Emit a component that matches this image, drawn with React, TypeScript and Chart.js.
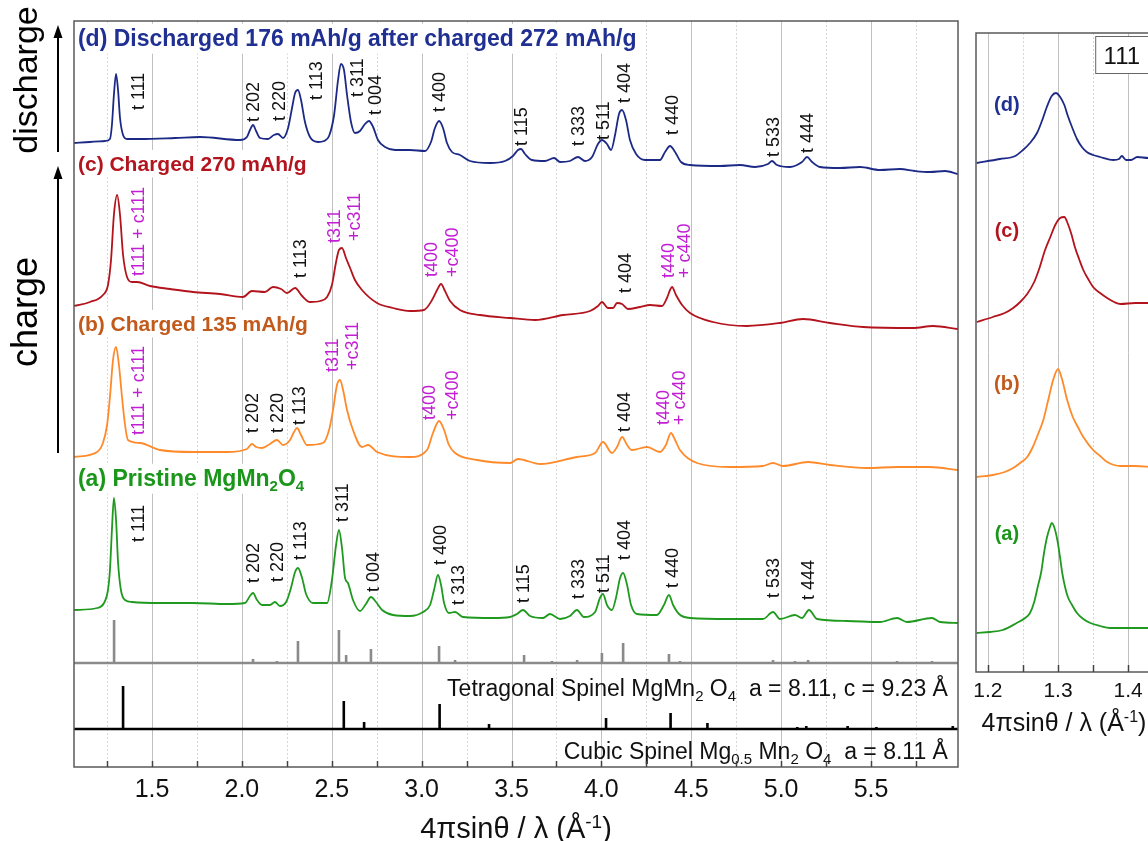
import React, { useEffect, useRef } from "react";
import { Chart, registerables } from "chart.js";
Chart.register(...registerables);

const FONT = "'Liberation Sans', Arial, Helvetica, sans-serif";

// ---------- main panel data (x in 4πsinθ/λ, y in arbitrary stacked intensity) ----------
const X_MIN = 1.066;
const X_MAX = 5.984;
const Y_MAX = 746;

const traceD: [number, number][] = [
  [1.066, 624], [1.155, 625], [1.239, 626], [1.266, 628], [1.277, 642], [1.288, 672], [1.3, 693], [1.311, 677],
  [1.322, 649], [1.339, 632], [1.361, 628], [1.433, 628], [1.628, 629], [1.767, 630], [1.99, 627], [2.028, 630],
  [2.045, 637], [2.062, 642], [2.079, 636], [2.101, 629], [2.145, 628], [2.178, 632], [2.201, 633], [2.229, 629],
  [2.257, 639], [2.279, 659], [2.296, 674], [2.312, 677], [2.329, 667], [2.351, 645], [2.379, 630], [2.424, 625],
  [2.457, 626], [2.485, 631], [2.513, 652], [2.535, 687], [2.551, 703], [2.568, 697], [2.585, 672], [2.607, 645],
  [2.629, 634], [2.657, 636], [2.685, 643], [2.707, 646], [2.73, 640], [2.757, 627], [2.796, 620], [2.852, 617],
  [2.935, 617], [3.019, 616], [3.052, 625], [3.074, 639], [3.097, 646], [3.119, 639], [3.141, 624], [3.169, 615],
  [3.213, 612], [3.269, 606], [3.38, 604], [3.464, 606], [3.508, 611], [3.536, 617], [3.553, 618], [3.575, 613],
  [3.614, 607], [3.686, 606], [3.737, 609], [3.77, 605], [3.825, 606], [3.87, 610], [3.909, 606], [3.948, 610],
  [3.981, 623], [4.003, 627], [4.031, 623], [4.054, 617], [4.076, 632], [4.098, 653], [4.115, 657], [4.137, 647],
  [4.159, 627], [4.193, 613], [4.243, 607], [4.326, 607], [4.354, 615], [4.382, 621], [4.41, 615], [4.443, 605],
  [4.493, 602], [4.66, 601], [4.771, 602], [4.855, 600], [4.927, 603], [4.949, 606], [4.977, 602], [5.049, 600],
  [5.116, 605], [5.144, 610], [5.172, 605], [5.216, 600], [5.327, 599], [5.439, 600], [5.55, 597], [5.661, 598],
  [5.745, 596], [5.828, 595], [5.912, 596], [5.984, 593],
];

const traceC: [number, number][] = [
  [1.066, 461], [1.155, 465], [1.227, 472], [1.255, 482], [1.272, 507], [1.288, 552], [1.306, 572], [1.322, 552],
  [1.339, 512], [1.361, 490], [1.389, 485], [1.417, 485], [1.489, 481], [1.6, 478], [1.728, 475], [1.878, 473],
  [2.006, 470], [2.056, 476], [2.128, 475], [2.173, 480], [2.218, 478], [2.251, 474], [2.296, 479], [2.335, 471],
  [2.379, 465], [2.435, 466], [2.474, 470], [2.501, 482], [2.524, 505], [2.54, 517], [2.557, 519], [2.579, 509],
  [2.602, 499], [2.629, 487], [2.668, 477], [2.752, 464], [2.841, 459], [2.935, 456], [3.013, 457], [3.058, 467],
  [3.086, 477], [3.108, 483], [3.13, 476], [3.158, 466], [3.213, 457], [3.325, 452], [3.492, 449], [3.631, 447],
  [3.787, 452], [3.937, 456], [3.981, 461], [4.003, 465], [4.037, 459], [4.065, 459], [4.087, 464], [4.115, 463],
  [4.148, 458], [4.215, 460], [4.271, 462], [4.337, 461], [4.365, 469], [4.382, 477], [4.393, 480], [4.415, 472],
  [4.449, 462], [4.493, 454], [4.621, 445], [4.81, 441], [4.994, 444], [5.122, 448], [5.272, 444], [5.456, 440],
  [5.734, 439], [5.845, 441], [5.984, 438],
];

const traceB: [number, number][] = [
  [1.066, 310], [1.194, 315], [1.227, 324], [1.25, 342], [1.266, 370], [1.283, 407], [1.3, 420], [1.316, 402],
  [1.333, 370], [1.35, 342], [1.366, 327], [1.433, 324], [1.545, 317], [1.728, 315], [1.917, 315], [2.028, 318],
  [2.056, 323], [2.079, 320], [2.112, 319], [2.156, 323], [2.195, 327], [2.229, 322], [2.268, 327], [2.29, 335],
  [2.307, 339], [2.329, 332], [2.362, 322], [2.451, 324], [2.485, 337], [2.507, 357], [2.529, 382], [2.546, 387],
  [2.563, 377], [2.585, 357], [2.618, 337], [2.668, 320], [2.702, 322], [2.752, 315], [2.935, 310], [3.03, 317],
  [3.063, 334], [3.097, 346], [3.125, 337], [3.152, 322], [3.186, 314], [3.308, 307], [3.492, 304], [3.536, 308],
  [3.659, 303], [3.864, 310], [3.965, 314], [4.009, 325], [4.059, 314], [4.087, 320], [4.115, 330], [4.143, 322],
  [4.17, 317], [4.254, 320], [4.326, 315], [4.359, 322], [4.387, 334], [4.41, 327], [4.437, 317], [4.532, 304],
  [4.716, 300], [4.899, 301], [4.955, 304], [5.01, 301], [5.15, 305], [5.272, 302], [5.478, 299], [5.645, 300],
  [5.828, 300], [5.984, 297],
];

const traceA: [number, number][] = [
  [1.066, 157], [1.194, 159], [1.233, 164], [1.255, 177], [1.266, 197], [1.277, 237], [1.288, 269], [1.3, 247],
  [1.311, 205], [1.327, 177], [1.35, 167], [1.389, 165], [1.545, 164], [1.728, 164], [1.917, 163], [2.017, 164],
  [2.045, 171], [2.062, 174], [2.084, 167], [2.112, 162], [2.156, 162], [2.184, 165], [2.212, 161], [2.246, 165],
  [2.273, 179], [2.296, 195], [2.312, 199], [2.335, 189], [2.357, 173], [2.396, 164], [2.474, 164], [2.501, 187],
  [2.524, 222], [2.54, 237], [2.557, 219], [2.574, 189], [2.59, 184], [2.618, 167], [2.657, 156], [2.69, 163],
  [2.718, 170], [2.746, 165], [2.78, 157], [2.841, 152], [2.935, 151], [3.008, 155], [3.047, 162], [3.069, 177],
  [3.091, 192], [3.108, 182], [3.125, 164], [3.152, 154], [3.186, 155], [3.23, 150], [3.397, 149], [3.492, 150],
  [3.53, 153], [3.564, 157], [3.603, 151], [3.675, 149], [3.714, 153], [3.77, 148], [3.825, 151], [3.864, 157],
  [3.903, 150], [3.965, 155], [3.992, 169], [4.009, 173], [4.031, 162], [4.059, 157], [4.081, 169], [4.104, 189],
  [4.121, 194], [4.143, 182], [4.165, 162], [4.198, 153], [4.309, 152], [4.348, 162], [4.376, 172], [4.399, 162],
  [4.432, 153], [4.493, 149], [4.716, 148], [4.899, 148], [4.955, 155], [4.994, 148], [5.077, 152], [5.116, 149],
  [5.155, 157], [5.2, 148], [5.367, 146], [5.55, 145], [5.645, 149], [5.7, 145], [5.839, 149], [5.884, 145],
  [5.984, 144],
];

// reference stick patterns
const TETRA_BASE = 104;
const tetraPos = [1.289, 2.062, 2.195, 2.312, 2.54, 2.58, 2.718, 3.097, 3.186, 3.35, 3.57, 3.725, 3.865, 4.003, 4.121,
  4.376, 4.437, 4.532, 4.621, 4.81, 4.955, 5.077, 5.15, 5.272, 5.34, 5.48, 5.645, 5.839];
const tetraInt = [43, 4, 2, 22, 33, 8, 14, 17, 3, 1, 8, 2, 3, 10, 20, 9, 2, 1, 1, 1, 3, 2, 3, 1, 1, 1, 2, 2];

const CUBIC_BASE = 38;
const cubicPos = [1.339, 2.19, 2.567, 2.68, 3.1, 3.375, 4.026, 4.385, 4.59, 5.09, 5.14, 5.37, 5.53, 5.955];
const cubicInt = [43, 1, 28, 7, 25, 5, 11, 16, 6, 2, 3, 3, 2, 3];

const majorTicks = [1.5, 2.0, 2.5, 3.0, 3.5, 4.0, 4.5, 5.0, 5.5];
const minorTicks = [1.25, 1.75, 2.25, 2.75, 3.25, 3.75, 4.25, 4.75, 5.25, 5.75];

// peak labels: text, x, y (start of rotated text), colour key (k = black, m = magenta)
type PeakLabel = [string, number, number, string];
const labelsD: PeakLabel[] = [
  ["t 111", 1.422, 657, "k"], ["t 202", 2.062, 645, "k"], ["t 220", 2.207, 646, "k"], ["t 113", 2.412, 667, "k"],
  ["t 311", 2.64, 670, "k"], ["t 004", 2.741, 652, "k"], ["t 400", 3.097, 655, "k"], ["t 115", 3.553, 621, "k"],
  ["t 333", 3.87, 621, "k"], ["t 511", 4.009, 627, "k"], ["t 404", 4.126, 664, "k"], ["t 440", 4.393, 632, "k"],
  ["t 533", 4.955, 610, "k"], ["t 444", 5.144, 614, "k"],
];
const labelsC: PeakLabel[] = [
  ["t111 + c111", 1.422, 491, "m"], ["t 113", 2.323, 489, "k"], ["t311", 2.513, 524, "m"], ["+c311", 2.624, 526, "m"],
  ["t400", 3.052, 490, "m"], ["+c400", 3.169, 490, "m"], ["t 404", 4.131, 474, "k"], ["t440", 4.371, 489, "m"],
  ["+ c440", 4.46, 489, "m"],
];
const labelsB: PeakLabel[] = [
  ["t111 + c111", 1.422, 332, "m"], ["t 202", 2.056, 334, "k"], ["t 220", 2.195, 334, "k"], ["t 113", 2.318, 342, "k"],
  ["t311", 2.501, 395, "m"], ["+c311", 2.613, 397, "m"], ["t400", 3.041, 347, "m"], ["+c400", 3.169, 347, "m"],
  ["t 404", 4.126, 335, "k"], ["t440", 4.343, 342, "m"], ["+ c440", 4.432, 342, "m"],
];
const labelsA: PeakLabel[] = [
  ["t 111", 1.422, 225, "k"], ["t 202", 2.062, 184, "k"], ["t 220", 2.195, 185, "k"], ["t 113", 2.323, 207, "k"],
  ["t 311", 2.557, 245, "k"], ["t 004", 2.729, 175, "k"], ["t 400", 3.102, 202, "k"], ["t 313", 3.202, 162, "k"],
  ["t 115", 3.564, 164, "k"], ["t 333", 3.87, 168, "k"], ["t 511", 4.009, 174, "k"], ["t 404", 4.126, 207, "k"],
  ["t 440", 4.393, 179, "k"], ["t 533", 4.955, 169, "k"], ["t 444", 5.15, 167, "k"],
];

type Seg = { t: string; s?: "sub" | "sup" };
const TITLE_X = 1.088;
const titleD: Seg[] = [{ t: "(d) Discharged 176 mAh/g after charged 272 mAh/g" }];
const titleC: Seg[] = [{ t: "(c) Charged 270 mAh/g" }];
const titleB: Seg[] = [{ t: "(b) Charged 135 mAh/g" }];
const titleA: Seg[] = [{ t: "(a) Pristine MgMn" }, { t: "2", s: "sub" }, { t: "O" }, { t: "4", s: "sub" }];
const titleY = [729, 604, 444, 289];

const tetraText: Seg[] = [
  { t: "Tetragonal Spinel MgMn" }, { t: "2", s: "sub" }, { t: " O" }, { t: "4", s: "sub" }, { t: "  a = 8.11, c = 9.23 Å" },
];
const cubicText: Seg[] = [
  { t: "Cubic Spinel Mg" }, { t: "0.5", s: "sub" }, { t: " Mn" }, { t: "2", s: "sub" }, { t: " O" }, { t: "4", s: "sub" },
  { t: "  a = 8.11 Å" },
];
const refTextX = 5.928;
const refTextY = [79, 16];

const axisTitle: Seg[] = [{ t: "4πsinθ / λ (Å" }, { t: "-1", s: "sup" }, { t: ")" }];

// ---------- side panel (111 reflection) ----------
const RX_MIN = 1.183;
const RX_MAX = 1.434;
const RY_MAX = 639;

const zoomD: [number, number][] = [
  [1.184, 509], [1.217, 513], [1.239, 516], [1.25, 522], [1.26, 529], [1.27, 539], [1.277, 551], [1.284, 565],
  [1.291, 576], [1.297, 579], [1.303, 575], [1.309, 567], [1.314, 556], [1.321, 543], [1.327, 533], [1.334, 525],
  [1.341, 520], [1.35, 517], [1.36, 515], [1.379, 512], [1.387, 513], [1.391, 516], [1.397, 512], [1.404, 512],
  [1.413, 515], [1.429, 514], [1.434, 514],
];
const zoomC: [number, number][] = [
  [1.184, 350], [1.207, 355], [1.224, 359], [1.236, 364], [1.246, 370], [1.256, 378], [1.266, 390], [1.274, 405],
  [1.281, 421], [1.289, 435], [1.296, 447], [1.303, 454], [1.309, 455], [1.313, 450], [1.319, 438], [1.324, 425],
  [1.33, 413], [1.336, 402], [1.343, 393], [1.35, 385], [1.36, 379], [1.37, 374], [1.38, 370], [1.389, 368],
  [1.41, 369], [1.434, 369],
];
const zoomB: [number, number][] = [
  [1.184, 195], [1.207, 197], [1.224, 200], [1.236, 204], [1.246, 209], [1.256, 215], [1.264, 225], [1.271, 237],
  [1.279, 252], [1.286, 272], [1.293, 292], [1.3, 303], [1.306, 292], [1.313, 272], [1.321, 255], [1.329, 244],
  [1.336, 235], [1.35, 222], [1.36, 216], [1.37, 210], [1.389, 206], [1.41, 206], [1.434, 205],
];
const zoomA: [number, number][] = [
  [1.184, 39], [1.203, 40], [1.221, 42], [1.241, 49], [1.253, 54], [1.26, 59], [1.266, 70], [1.271, 85], [1.276, 100],
  [1.28, 119], [1.284, 134], [1.289, 146], [1.291, 149], [1.294, 146], [1.299, 132], [1.303, 114], [1.306, 99],
  [1.31, 85], [1.314, 75], [1.32, 67], [1.327, 59], [1.336, 53], [1.346, 49], [1.36, 46], [1.374, 44], [1.403, 44],
  [1.434, 44],
];
const sideMajor = [1.2, 1.3, 1.4];
const sideMinor = [1.25, 1.35];
const sideTicks = [1.2, 1.25, 1.3, 1.35, 1.4];
const sideLabels = ["(d)", "(c)", "(b)", "(a)"];
const sideLabelX = 1.227;
const sideLabelY = [568, 442, 289, 139];
const boxText = "111";

// ---------- colours ----------
const COL_D = "#1c2a86";
const COL_C = "#b3131c";
const COL_B = "#ff8a2a";
const COL_A = "#1f9a1f";
const TXT_D = "#1f2f92";
const TXT_C = "#b3151e";
const TXT_B = "#c25a1c";
const TXT_A = "#1a961a";
const MAGENTA = "#c21fd4";

const toXY = (arr: [number, number][]) => arr.map(([x, y]) => ({ x, y }));
function sticks(pos: number[], ints: number[], base: number, lo: number, hi: number) {
  const pts: { x: number; y: number }[] = [{ x: lo, y: base }];
  pos.forEach((p, i) => {
    pts.push({ x: p, y: base }, { x: p, y: base + ints[i] }, { x: p, y: base });
  });
  pts.push({ x: hi, y: base });
  return pts;
}

function drawRich(
  ctx: CanvasRenderingContext2D, segs: Seg[], x: number, y: number, size: number, weight: string,
  color: string, align: "left" | "right" | "center", bg?: string
) {
  const fontFor = (s?: string) => `${weight} ${s ? Math.round(size * 0.64) : size}px ${FONT}`;
  const widths = segs.map((sg) => {
    ctx.font = fontFor(sg.s);
    return ctx.measureText(sg.t).width;
  });
  const W = widths.reduce((a, b) => a + b, 0);
  const x0 = align === "left" ? x : align === "right" ? x - W : x - W / 2;
  if (bg) {
    ctx.fillStyle = bg;
    ctx.fillRect(x0 - 3, y - size * 0.62, W + 6, size * 1.3);
  }
  ctx.fillStyle = color;
  ctx.textAlign = "left";
  ctx.textBaseline = "alphabetic";
  let cx = x0;
  segs.forEach((sg, i) => {
    ctx.font = fontFor(sg.s);
    const dy = sg.s === "sub" ? size * 0.2 : sg.s === "sup" ? -size * 0.36 : 0;
    ctx.fillText(sg.t, cx, y + size * 0.36 + dy);
    cx += widths[i];
  });
}

function arrowUp(ctx: CanvasRenderingContext2D, x: number, yTail: number, yTip: number) {
  ctx.strokeStyle = "#000";
  ctx.fillStyle = "#000";
  ctx.lineWidth = 2;
  ctx.beginPath();
  ctx.moveTo(x, yTail);
  ctx.lineTo(x, yTip + 8);
  ctx.stroke();
  ctx.beginPath();
  ctx.moveTo(x, yTip);
  ctx.lineTo(x - 4.5, yTip + 13);
  ctx.lineTo(x + 4.5, yTip + 13);
  ctx.closePath();
  ctx.fill();
}

const mainPlugin = {
  id: "mainDeco",
  beforeDatasetsDraw(chart: any) {
    const { ctx, chartArea: a, scales } = chart;
    const xs = scales.x;
    const ys = scales.y;
    ctx.save();
    ctx.lineWidth = 1;
    ctx.strokeStyle = "#d6d6d6";
    ctx.setLineDash([2, 2]);
    minorTicks.forEach((v) => {
      const px = Math.round(xs.getPixelForValue(v)) + 0.5;
      ctx.beginPath();
      ctx.moveTo(px, a.top);
      ctx.lineTo(px, a.bottom);
      ctx.stroke();
    });
    ctx.setLineDash([]);
    ctx.strokeStyle = "#c0c0c0";
    majorTicks.forEach((v) => {
      const px = Math.round(xs.getPixelForValue(v)) + 0.5;
      ctx.beginPath();
      ctx.moveTo(px, a.top);
      ctx.lineTo(px, a.bottom);
      ctx.stroke();
    });
    const tx = xs.getPixelForValue(TITLE_X);
    const titles = [titleD, titleC, titleB, titleA];
    const cols = [TXT_D, TXT_C, TXT_B, TXT_A];
    const sizes = [23, 21, 21, 23];
    titles.forEach((t, i) => drawRich(ctx, t, tx, ys.getPixelForValue(titleY[i]), sizes[i], "bold", cols[i], "left", "#fff"));
    ctx.restore();
  },
  afterDatasetsDraw(chart: any) {
    const { ctx, chartArea: a, scales } = chart;
    const xs = scales.x;
    const ys = scales.y;
    ctx.save();
    // peak labels (rotated)
    [labelsD, labelsC, labelsB, labelsA].forEach((list) => {
      list.forEach(([text, xv, yv, c]) => {
        ctx.save();
        ctx.translate(xs.getPixelForValue(xv), ys.getPixelForValue(yv));
        ctx.rotate(-Math.PI / 2);
        ctx.font = `18px ${FONT}`;
        ctx.fillStyle = c === "m" ? MAGENTA : "#111";
        ctx.textAlign = "left";
        ctx.textBaseline = "middle";
        ctx.fillText(text, 0, 1);
        ctx.restore();
      });
    });
    // reference texts
    const rx = xs.getPixelForValue(refTextX);
    drawRich(ctx, tetraText, rx, ys.getPixelForValue(refTextY[0]), 23, "normal", "#111", "right");
    drawRich(ctx, cubicText, rx, ys.getPixelForValue(refTextY[1]), 23, "normal", "#111", "right");
    // frame
    ctx.strokeStyle = "#5a5a5a";
    ctx.lineWidth = 1.5;
    ctx.strokeRect(a.left, a.top, a.right - a.left, a.bottom - a.top);
    // inward ticks
    ctx.strokeStyle = "#444";
    ctx.lineWidth = 1.5;
    [...majorTicks, ...minorTicks].forEach((v) => {
      const px = Math.round(xs.getPixelForValue(v)) + 0.5;
      ctx.beginPath();
      ctx.moveTo(px, a.bottom);
      ctx.lineTo(px, a.bottom - 6);
      ctx.stroke();
    });
    // axis title
    drawRich(ctx, axisTitle, (a.left + a.right) / 2, 828, 29, "normal", "#111", "center");
    // side annotations
    ctx.fillStyle = "#000";
    ctx.textAlign = "center";
    ctx.textBaseline = "alphabetic";
    ctx.save();
    ctx.translate(37, 80);
    ctx.rotate(-Math.PI / 2);
    ctx.font = `34px ${FONT}`;
    ctx.fillText("discharge", 0, 0);
    ctx.restore();
    ctx.save();
    ctx.translate(37, 312);
    ctx.rotate(-Math.PI / 2);
    ctx.font = `36px ${FONT}`;
    ctx.fillText("charge", 0, 0);
    ctx.restore();
    arrowUp(ctx, 58, 152, 25);
    arrowUp(ctx, 58, 453, 166);
    ctx.restore();
  },
};

const sidePlugin = {
  id: "sideDeco",
  beforeDatasetsDraw(chart: any) {
    const { ctx, chartArea: a, scales } = chart;
    const xs = scales.x;
    ctx.save();
    ctx.lineWidth = 1;
    ctx.strokeStyle = "#d6d6d6";
    ctx.setLineDash([2, 2]);
    sideMinor.forEach((v) => {
      const px = Math.round(xs.getPixelForValue(v)) + 0.5;
      ctx.beginPath();
      ctx.moveTo(px, a.top);
      ctx.lineTo(px, a.bottom);
      ctx.stroke();
    });
    ctx.setLineDash([]);
    ctx.strokeStyle = "#c0c0c0";
    sideMajor.forEach((v) => {
      const px = Math.round(xs.getPixelForValue(v)) + 0.5;
      ctx.beginPath();
      ctx.moveTo(px, a.top);
      ctx.lineTo(px, a.bottom);
      ctx.stroke();
    });
    ctx.restore();
  },
  afterDatasetsDraw(chart: any) {
    const { ctx, chartArea: a, scales } = chart;
    const xs = scales.x;
    const ys = scales.y;
    ctx.save();
    const cols = [TXT_D, TXT_C, TXT_B, TXT_A];
    sideLabels.forEach((t, i) =>
      drawRich(ctx, [{ t }], xs.getPixelForValue(sideLabelX), ys.getPixelForValue(sideLabelY[i]), 20, "bold", cols[i], "center")
    );
    // 111 box
    const bx = xs.getPixelForValue(1.353);
    const by0 = ys.getPixelForValue(636);
    const by1 = ys.getPixelForValue(599);
    ctx.fillStyle = "#fff";
    ctx.fillRect(bx, by0, a.right - bx, by1 - by0);
    ctx.strokeStyle = "#666";
    ctx.lineWidth = 1;
    ctx.strokeRect(bx + 0.5, by0 + 0.5, a.right - bx, by1 - by0);
    drawRich(ctx, [{ t: boxText }], xs.getPixelForValue(1.391), ys.getPixelForValue(617), 24, "normal", "#111", "center");
    // frame
    ctx.strokeStyle = "#5a5a5a";
    ctx.lineWidth = 1.5;
    ctx.strokeRect(a.left, a.top, a.right - a.left, a.bottom - a.top);
    ctx.strokeStyle = "#444";
    sideTicks.forEach((v) => {
      const px = Math.round(xs.getPixelForValue(v)) + 0.5;
      ctx.beginPath();
      ctx.moveTo(px, a.bottom);
      ctx.lineTo(px, a.bottom - 7);
      ctx.stroke();
    });
    drawRich(ctx, axisTitle, (a.left + a.right) / 2, 722, 25, "normal", "#111", "center");
    ctx.restore();
  },
};

const lineDs = (data: any[], color: string, width = 1.8) => ({
  data,
  borderColor: color,
  borderWidth: width,
  pointRadius: 0,
  fill: false,
  cubicInterpolationMode: "monotone" as const,
});
const stickDs = (data: any[], color: string) => ({
  data,
  borderColor: color,
  borderWidth: 2.6,
  pointRadius: 0,
  fill: false,
  tension: 0,
  borderJoinStyle: "bevel" as const,
});

export default function App() {
  const mainRef = useRef<HTMLCanvasElement>(null);
  const sideRef = useRef<HTMLCanvasElement>(null);

  useEffect(() => {
    const main = new Chart(mainRef.current!, {
      type: "line",
      data: {
        datasets: [
          stickDs(sticks(cubicPos, cubicInt, CUBIC_BASE, X_MIN, X_MAX), "#000"),
          stickDs(sticks(tetraPos, tetraInt, TETRA_BASE, X_MIN, X_MAX), "#8a8a8a"),
          lineDs(toXY(traceA), COL_A),
          lineDs(toXY(traceB), COL_B),
          lineDs(toXY(traceC), COL_C),
          lineDs(toXY(traceD), COL_D),
        ] as any,
      },
      options: {
        responsive: false,
        animation: false,
        devicePixelRatio: 1,
        layout: { padding: { left: 74, right: 7, top: 21, bottom: 0 } },
        plugins: { legend: { display: false }, tooltip: { enabled: false } },
        scales: {
          x: {
            type: "linear",
            min: X_MIN,
            max: X_MAX,
            grid: { display: false, drawTicks: false },
            border: { display: false },
            afterBuildTicks: (axis: any) => {
              axis.ticks = [...minorTicks, ...majorTicks].sort((p, q) => p - q).map((v) => ({ value: v }));
            },
            afterFit: (axis: any) => {
              axis.height = 74;
            },
            ticks: {
              autoSkip: false,
              maxRotation: 0,
              minRotation: 0,
              padding: 8,
              color: "#111",
              font: { family: FONT, size: 25 },
              callback: (v: any) => (majorTicks.some((m) => Math.abs(m - v) < 1e-6) ? Number(v).toFixed(1) : ""),
            },
          },
          y: { type: "linear", min: 0, max: Y_MAX, display: false },
        },
      },
      plugins: [mainPlugin],
    });

    const side = new Chart(sideRef.current!, {
      type: "line",
      data: {
        datasets: [
          lineDs(toXY(zoomA), COL_A, 1.8),
          lineDs(toXY(zoomB), COL_B, 1.8),
          lineDs(toXY(zoomC), COL_C, 1.8),
          lineDs(toXY(zoomD), COL_D, 1.8),
        ] as any,
      },
      options: {
        responsive: false,
        animation: false,
        devicePixelRatio: 1,
        layout: { padding: { left: 11, right: 13, top: 33, bottom: 0 } },
        plugins: { legend: { display: false }, tooltip: { enabled: false } },
        scales: {
          x: {
            type: "linear",
            min: RX_MIN,
            max: RX_MAX,
            grid: { display: false, drawTicks: false },
            border: { display: false },
            afterBuildTicks: (axis: any) => {
              axis.ticks = sideTicks.map((v) => ({ value: v }));
            },
            afterFit: (axis: any) => {
              axis.height = 169;
            },
            ticks: {
              autoSkip: false,
              maxRotation: 0,
              minRotation: 0,
              padding: 7,
              color: "#111",
              font: { family: FONT, size: 21 },
              callback: (v: any) => (sideMajor.some((m) => Math.abs(m - v) < 1e-6) ? Number(v).toFixed(1) : ""),
            },
          },
          y: { type: "linear", min: 0, max: RY_MAX, display: false },
        },
      },
      plugins: [sidePlugin],
    });

    return () => {
      main.destroy();
      side.destroy();
    };
  }, []);

  return (
    <div style={{ position: "absolute", left: 0, top: 0, width: 1148, height: 841, overflow: "hidden", background: "#fff" }}>
      <canvas ref={mainRef} width={965} height={841} style={{ position: "absolute", left: 0, top: 0 }} />
      <canvas ref={sideRef} width={200} height={841} style={{ position: "absolute", left: 965, top: 0 }} />
    </div>
  );
}
